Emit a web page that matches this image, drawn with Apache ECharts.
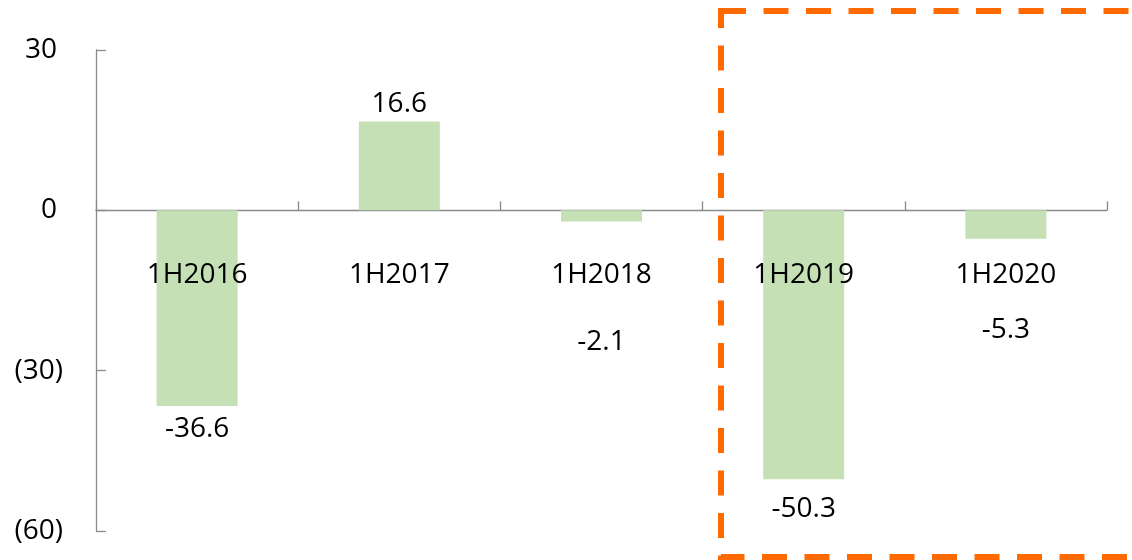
<!DOCTYPE html>
<html>
<head>
<meta charset="utf-8">
<title>1H change</title>
<script src="https://cdn.jsdelivr.net/npm/echarts@6/dist/echarts.min.js"></script>
<style>
  html, body { margin: 0; padding: 0; background: #ffffff; }
  #chart { width: 1132px; height: 560px; }
</style>
</head>
<body>
<div id="chart"></div>
<script>
// Half-year periods and their values
const categories = ['1H2016', '1H2017', '1H2018', '1H2019', '1H2020'];
const values = [-36.6, 16.6, -2.1, -50.3, -5.3];

// Value axis range
const axisMin = -60;
const axisMax = 30;
const axisStep = 30;

const FONT = '"Open Sans", "Noto Sans", sans-serif';
const AXIS_GREY = '#8a8a8a';
const GRID = { left: 96, right: 25, top: 50, bottom: 29 };
const PLOT_H = 560 - GRID.top - GRID.bottom;
// distance from the bottom of the plot up to the zero line
const ZERO_FROM_BOTTOM = PLOT_H * (0 - axisMin) / (axisMax - axisMin);

// Gap between each negative bar's end and its value label;
// the two short bars push their labels clear of the period names
const labelGap = { 0: 9, 2: 106, 3: 16, 4: 77 };

const chart = echarts.init(document.getElementById('chart'), null, { renderer: 'canvas' });

chart.setOption({
  animation: false,
  backgroundColor: '#ffffff',
  grid: Object.assign({ containLabel: false, outerBoundsMode: 'none' }, GRID),
  xAxis: [{
    // zero line with upward ticks between periods
    type: 'category',
    data: categories,
    axisLine: { onZero: true, lineStyle: { color: AXIS_GREY, width: 1.3 } },
    axisTick: { show: true, inside: true, length: 9, lineStyle: { color: AXIS_GREY, width: 1.3 } },
    axisLabel: { show: false },
    splitLine: { show: false }
  }, {
    // period names, hung just under the zero line and drawn over the bars
    type: 'category',
    data: categories,
    position: 'bottom',
    offset: -ZERO_FROM_BOTTOM,
    z: 20,
    axisLine: { show: false },
    axisTick: { show: false },
    axisLabel: { margin: 51, color: '#000', fontFamily: FONT, fontSize: 28 },
    splitLine: { show: false }
  }],
  yAxis: {
    type: 'value',
    min: axisMin,
    max: axisMax,
    interval: axisStep,
    axisLine: { show: true, lineStyle: { color: AXIS_GREY, width: 1.3 } },
    axisTick: { show: true, inside: true, length: 10, lineStyle: { color: AXIS_GREY, width: 1.3 } },
    splitLine: { show: false },
    axisLabel: {
      margin: 33,
      color: '#000',
      fontFamily: FONT,
      fontSize: 28,
      // negatives in brackets; positives keep a bracket-wide pad on the right
      formatter: v => v < 0 ? '(' + Math.abs(v) + ')' : '{pos|' + v + '}',
      rich: { pos: { fontFamily: FONT, fontSize: 28, color: '#000', padding: [0, 6, 0, 0] } }
    }
  },
  series: [{
    type: 'bar',
    xAxisIndex: 0,
    barWidth: 81,
    itemStyle: { color: '#c5e0b4' },
    data: values.map((v, i) => ({
      value: v,
      label: {
        position: v >= 0 ? 'top' : 'bottom',
        distance: v >= 0 ? 4 : labelGap[i]
      }
    })),
    label: {
      show: true,
      color: '#000',
      fontFamily: FONT,
      fontSize: 28,
      formatter: p => p.value.toFixed(1)
    }
  }],
  graphic: [{
    type: 'rect',
    silent: true,
    shape: { x: 721, y: 11, width: 440, height: 546 },
    style: { fill: null, stroke: '#ff6a00', lineWidth: 6, lineDash: [25, 17.5] },
    z: 100
  }]
});
</script>
</body>
</html>
